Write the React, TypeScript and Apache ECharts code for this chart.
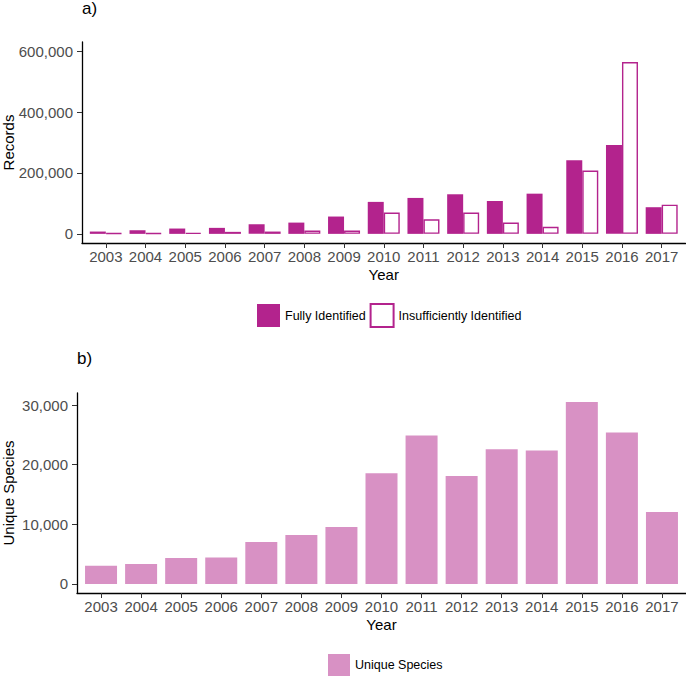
import { useEffect, useRef } from 'react';
import * as echarts from 'echarts';

const years = [2003, 2004, 2005, 2006, 2007, 2008, 2009, 2010, 2011, 2012, 2013, 2014, 2015, 2016, 2017];
const fullyIdentified = [7600, 11900, 17500, 19700, 31600, 37000, 56900, 105000, 118000, 130000, 108000, 132000, 242000, 292000, 87500];
const insufficientlyIdentified = [2000, 2000, 3000, 6600, 7600, 10900, 10900, 70000, 48000, 70000, 37000, 23000, 208000, 564000, 96000];
const uniqueSpecies = [3050, 3330, 4330, 4450, 7050, 8220, 9550, 18550, 24880, 18120, 22610, 22390, 30500, 25380, 12050];
const recordsTicks = [0, 200000, 400000, 600000];
const speciesTicks = [0, 10000, 20000, 30000];

const FONT = '"Liberation Sans", Arial, Helvetica, sans-serif';
const MAGENTA = '#b3238d';
const PINK = '#d891c4';

function fmt(v: number) {
  return Math.round(v).toLocaleString('en-US');
}

function xAxisFor(gridIndex: number) {
  return {
    type: 'value',
    gridIndex,
    min: 2002.4,
    max: 2017.6,
    name: 'Year',
    nameLocation: 'middle',
    nameGap: 24,
    nameMoveOverlap: false,
    nameTextStyle: { color: '#000', fontSize: 15, fontFamily: FONT },
    axisLine: { show: true, onZero: false, lineStyle: { color: '#000', width: 1.3 } },
    axisTick: { show: true, length: 5, customValues: years, lineStyle: { color: '#333', width: 1 } },
    axisLabel: {
      customValues: years,
      formatter: (v: number) => String(v),
      color: '#4d4d4d',
      fontSize: 15,
      fontFamily: FONT,
      margin: 6,
    },
    splitLine: { show: false },
  };
}

function yAxisFor(gridIndex: number, name: string, min: number, max: number, ticks: number[], nameGap: number) {
  return {
    type: 'value',
    gridIndex,
    min,
    max,
    name,
    nameLocation: 'middle',
    nameGap,
    nameMoveOverlap: false,
    nameTextStyle: { color: '#000', fontSize: 15, fontFamily: FONT },
    axisLine: { show: true, onZero: false, lineStyle: { color: '#000', width: 1.3 } },
    axisTick: { show: true, length: 5, customValues: ticks, lineStyle: { color: '#333', width: 1 } },
    axisLabel: {
      customValues: ticks,
      formatter: (v: number) => fmt(v),
      color: '#4d4d4d',
      fontSize: 15,
      fontFamily: FONT,
      margin: 9,
    },
    splitLine: { show: false },
  };
}

export default function App() {
  const ref = useRef<HTMLDivElement>(null);
  useEffect(() => {
    if (!ref.current) return;
    const chart = echarts.init(ref.current, null, { renderer: 'svg' });
    const titleStyle = { fontSize: 17, fontWeight: 'normal', color: '#000', fontFamily: FONT };
    const option: any = {
      animation: false,
      backgroundColor: '#fff',
      textStyle: { fontFamily: FONT },
      title: [
        { text: 'a)', left: 82, top: 0, padding: 0, textStyle: titleStyle },
        { text: 'b)', left: 77, top: 350, padding: 0, textStyle: titleStyle },
      ],
      grid: [
        { left: 82, top: 42, width: 603.5, height: 201, outerBoundsMode: 'none' },
        { left: 77, top: 393, width: 609, height: 200, outerBoundsMode: 'none' },
      ],
      xAxis: [xAxisFor(0), xAxisFor(1)],
      yAxis: [
        yAxisFor(0, 'Records', -30000, 630000, recordsTicks, 66),
        yAxisFor(1, 'Unique Species', -1525, 32025, speciesTicks, 61),
      ],
      legend: [
        {
          data: ['Fully Identified', 'Insufficiently Identified'],
          left: 257,
          top: 303,
          padding: 0,
          itemWidth: 23,
          itemHeight: 23,
          itemGap: 4,
          icon: 'rect',
          textStyle: { color: '#000', fontSize: 12.5, fontFamily: FONT },
        },
        {
          data: ['Unique Species'],
          left: 328,
          top: 654,
          padding: 0,
          itemWidth: 22,
          itemHeight: 22,
          icon: 'rect',
          textStyle: { color: '#000', fontSize: 12.5, fontFamily: FONT },
        },
      ],
      series: [
        {
          name: 'Fully Identified',
          type: 'bar',
          xAxisIndex: 0,
          yAxisIndex: 0,
          barWidth: 16,
          barGap: '0%',
          itemStyle: { color: MAGENTA },
          data: years.map((y, i) => [y, fullyIdentified[i]]),
        },
        {
          name: 'Insufficiently Identified',
          type: 'bar',
          xAxisIndex: 0,
          yAxisIndex: 0,
          barWidth: 16,
          barGap: '0%',
          itemStyle: { color: '#fff', borderColor: MAGENTA, borderWidth: 1.4 },
          data: years.map((y, i) => [y, insufficientlyIdentified[i]]),
        },
        {
          name: 'Unique Species',
          type: 'bar',
          xAxisIndex: 1,
          yAxisIndex: 1,
          barWidth: 32,
          itemStyle: { color: PINK },
          data: years.map((y, i) => [y, uniqueSpecies[i]]),
        },
      ],
    };
    chart.setOption(option);
    return () => chart.dispose();
  }, []);
  return <div ref={ref} style={{ position: 'absolute', left: 0, top: 0, width: 686, height: 677 }} />;
}
